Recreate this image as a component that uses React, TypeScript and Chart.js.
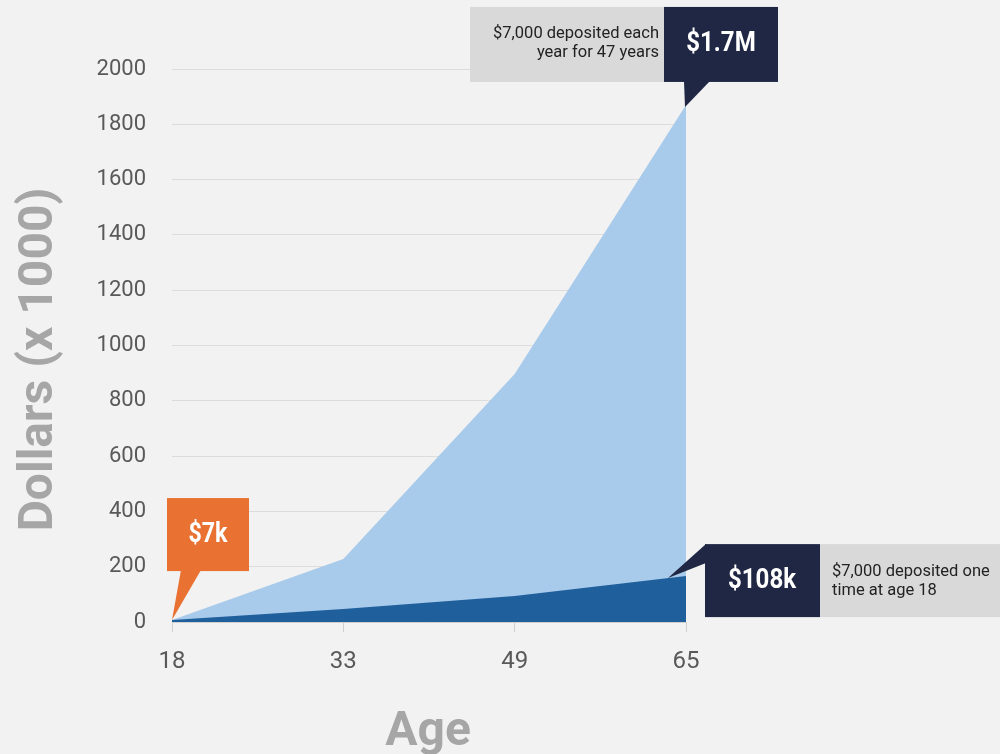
import React, { useEffect, useRef } from "react";
import { Chart, registerables } from "chart.js";

Chart.register(...registerables);

const ages = ["18", "33", "49", "65"];
const yearlyDeposit = [7, 228, 897, 1870];
const oneTimeDeposit = [7, 47, 94, 166];
const yTickMin = 0;
const yTickMax = 2000;
const yTickStep = 200;

const BG = "#f2f2f2";
const LIGHT = "#a8caeb";
const DARK = "#1f5f9b";
const NAVY = "#1f2744";
const ORANGE = "#e97132";
const GRAYBOX = "#d9d9d9";
const TITLE = "#a6a6a6";
const TICK = "#595959";
const ROBOTO = "Roboto, sans-serif";

const bgPlugin = {
  id: "bg",
  beforeDraw(chart: any) {
    const { ctx, width, height } = chart;
    ctx.save();
    ctx.fillStyle = BG;
    ctx.fillRect(0, 0, width, height);
    ctx.restore();
  },
};

function condensedText(ctx: any, text: string, x: number, y: number, sx: number) {
  ctx.save();
  ctx.translate(x, y);
  ctx.scale(sx, 1);
  ctx.fillText(text, 0, 0);
  ctx.restore();
}

const overlayPlugin = {
  id: "overlay",
  afterDraw(chart: any) {
    const { ctx } = chart;
    const xs = chart.scales.x;
    const ys = chart.scales.y;
    const area = chart.chartArea;
    ctx.save();

    // Axis titles
    ctx.fillStyle = TITLE;
    ctx.font = `bold 48px ${ROBOTO}`;
    ctx.textAlign = "center";
    ctx.textBaseline = "alphabetic";
    ctx.fillText("Age", (area.left + area.right) / 2 - 1, 745);
    ctx.save();
    ctx.translate(52, (area.top + area.bottom) / 2 + 14);
    ctx.rotate(-Math.PI / 2);
    ctx.fillText("Dollars (x 1000)", 0, 0);
    ctx.restore();

    // $7k callout (orange)
    const p0x = xs.getPixelForValue(0);
    const p0y = ys.getPixelForValue(oneTimeDeposit[0]);
    ctx.fillStyle = ORANGE;
    ctx.fillRect(p0x - 5, p0y - 122, 82, 73);
    ctx.beginPath();
    ctx.moveTo(p0x + 9, p0y - 50);
    ctx.lineTo(p0x + 29, p0y - 50);
    ctx.lineTo(p0x, p0y);
    ctx.closePath();
    ctx.fill();
    ctx.fillStyle = "#ffffff";
    ctx.font = `bold 27px ${ROBOTO}`;
    ctx.textAlign = "center";
    ctx.textBaseline = "middle";
    condensedText(ctx, "$7k", p0x + 36, p0y - 85, 0.86);

    // $1.7M callout
    const last = ages.length - 1;
    const p1x = xs.getPixelForValue(last);
    const p1y = ys.getPixelForValue(yearlyDeposit[last]);
    ctx.fillStyle = GRAYBOX;
    ctx.fillRect(p1x - 216, p1y - 98, 194, 75);
    ctx.fillStyle = NAVY;
    ctx.fillRect(p1x - 22, p1y - 98, 114, 75);
    ctx.beginPath();
    ctx.moveTo(p1x - 2, p1y - 24);
    ctx.lineTo(p1x + 24, p1y - 24);
    ctx.lineTo(p1x - 1, p1y + 2);
    ctx.closePath();
    ctx.fill();
    ctx.fillStyle = "#ffffff";
    ctx.font = `bold 28px ${ROBOTO}`;
    ctx.textAlign = "center";
    condensedText(ctx, "$1.7M", p1x + 35, p1y - 61, 0.86);
    ctx.fillStyle = "#222222";
    ctx.font = `16.5px ${ROBOTO}`;
    ctx.textAlign = "right";
    ctx.fillText("$7,000 deposited each", p1x - 27, p1y - 71);
    ctx.fillText("year for 47 years", p1x - 27, p1y - 52);

    // $108k callout
    const p2x = xs.getPixelForValue(last);
    const p2y = ys.getPixelForValue(oneTimeDeposit[last]);
    ctx.fillStyle = GRAYBOX;
    ctx.fillRect(p2x + 134, p2y - 32, 180, 73);
    ctx.fillStyle = NAVY;
    ctx.fillRect(p2x + 19, p2y - 32, 115, 73);
    ctx.beginPath();
    ctx.moveTo(p2x + 20, p2y - 32);
    ctx.lineTo(p2x + 20, p2y - 13);
    ctx.lineTo(p2x - 18, p2y + 2);
    ctx.closePath();
    ctx.fill();
    ctx.fillStyle = "#ffffff";
    ctx.font = `bold 28px ${ROBOTO}`;
    ctx.textAlign = "center";
    condensedText(ctx, "$108k", p2x + 76, p2y + 5, 0.86);
    ctx.fillStyle = "#222222";
    ctx.font = `16.5px ${ROBOTO}`;
    ctx.textAlign = "left";
    ctx.fillText("$7,000 deposited one", p2x + 146, p2y - 4);
    ctx.fillText("time at age 18", p2x + 146, p2y + 15);

    ctx.restore();
  },
};

export default function App() {
  const canvasRef = useRef<HTMLCanvasElement | null>(null);

  useEffect(() => {
    document.body.style.margin = "0";
    const canvas = canvasRef.current;
    if (!canvas) return;
    const chart = new Chart(canvas, {
      type: "line",
      data: {
        labels: ages,
        datasets: [
          {
            label: "One-time deposit",
            data: oneTimeDeposit,
            backgroundColor: DARK,
            borderColor: DARK,
            borderWidth: 0,
            pointRadius: 0,
            tension: 0,
            fill: "origin",
          },
          {
            label: "Yearly deposit",
            data: yearlyDeposit,
            backgroundColor: LIGHT,
            borderColor: LIGHT,
            borderWidth: 0,
            pointRadius: 0,
            tension: 0,
            fill: "origin",
          },
        ],
      },
      options: {
        animation: false,
        responsive: true,
        maintainAspectRatio: false,
        layout: { padding: { top: 69, right: 314, left: 0, bottom: 0 } },
        plugins: {
          legend: { display: false },
          tooltip: { enabled: false },
        },
        scales: {
          x: {
            offset: false,
            afterFit: (s: any) => {
              s.height = 132;
            },
            grid: {
              drawOnChartArea: false,
              drawTicks: true,
              tickLength: 10,
              color: "#d0d0d0",
            },
            border: { display: true, color: "#d0d0d0" },
            ticks: {
              color: TICK,
              font: { family: ROBOTO, size: 24 },
              padding: 16,
              maxRotation: 0,
            },
          },
          y: {
            min: yTickMin,
            max: yTickMax,
            afterFit: (s: any) => {
              s.width = 172;
            },
            grid: { drawTicks: false, color: "#dcdcdc" },
            border: { display: false },
            ticks: {
              stepSize: yTickStep,
              color: TICK,
              font: { family: ROBOTO, size: 22 },
              padding: 26,
              callback: (v: any) => String(v),
            },
          },
        },
      },
      plugins: [bgPlugin, overlayPlugin],
    });
    return () => chart.destroy();
  }, []);

  return (
    <div style={{ width: 1000, height: 754, position: "relative" }}>
      <canvas ref={canvasRef} />
    </div>
  );
}
